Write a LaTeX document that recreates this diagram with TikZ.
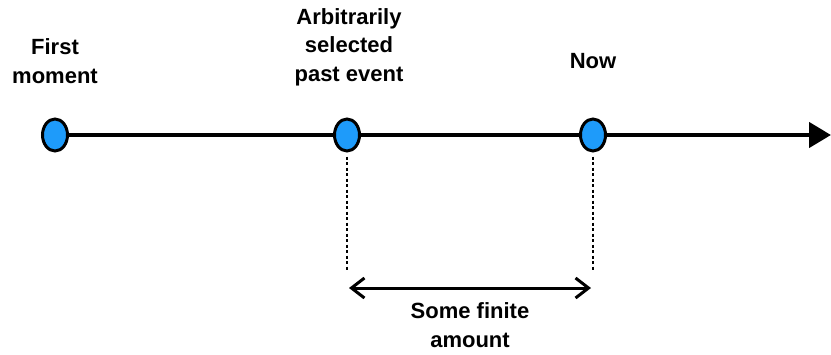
\documentclass[tikz,border=0pt]{standalone}
\usepackage{fontspec}
\setmainfont{Liberation Sans}
\usetikzlibrary{arrows.meta,shapes.geometric}
\definecolor{dotblue}{RGB}{30,155,250}
\tikzset{
  evt/.style={ellipse, draw=black, line width=3pt, fill=dotblue, minimum width=25pt, minimum height=32pt, inner sep=0pt},
  lbl/.style={align=center, font=\fontsize{22}{28.5}\selectfont\bfseries, inner sep=0pt},
  dash line/.style={line width=1.5pt, dash pattern=on 3pt off 2.5pt},
}
\begin{document}
\begin{tikzpicture}[x=1pt,y=-1pt]
\useasboundingbox (0,0) rectangle (831,354);
\coordinate (start) at (55,135);
\coordinate (end) at (831,135);
\draw[line width=4.5pt, -{Triangle[length=22pt,width=25pt]}] (start) -- (end);
\node[evt] (first) at (55,135) {};
\node[evt] (past) at (347,135) {};
\node[evt] (now) at (593,135) {};
\node[lbl] (lfirst) at (55,61) {First\\moment};
\node[lbl] (lpast) at (349,47) {Arbitrarily\\selected\\past event};
\node[lbl] (lnow) at (593,61) {Now};
\coordinate (pb) at (347,270);
\coordinate (nb) at (593,270);
\draw[dash line] (past.south) ++(0,4) -- (pb);
\draw[dash line] (now.south) ++(0,4) -- (nb);
\coordinate (al) at (349,288);
\coordinate (ar) at (591,288);
\draw[line width=3pt, {Straight Barb[length=13pt,width=20pt]}-{Straight Barb[length=13pt,width=20pt]}] (al) -- (ar);
\node[lbl] (amt) at (470,325) {Some finite\\amount};
\end{tikzpicture}
\end{document}
